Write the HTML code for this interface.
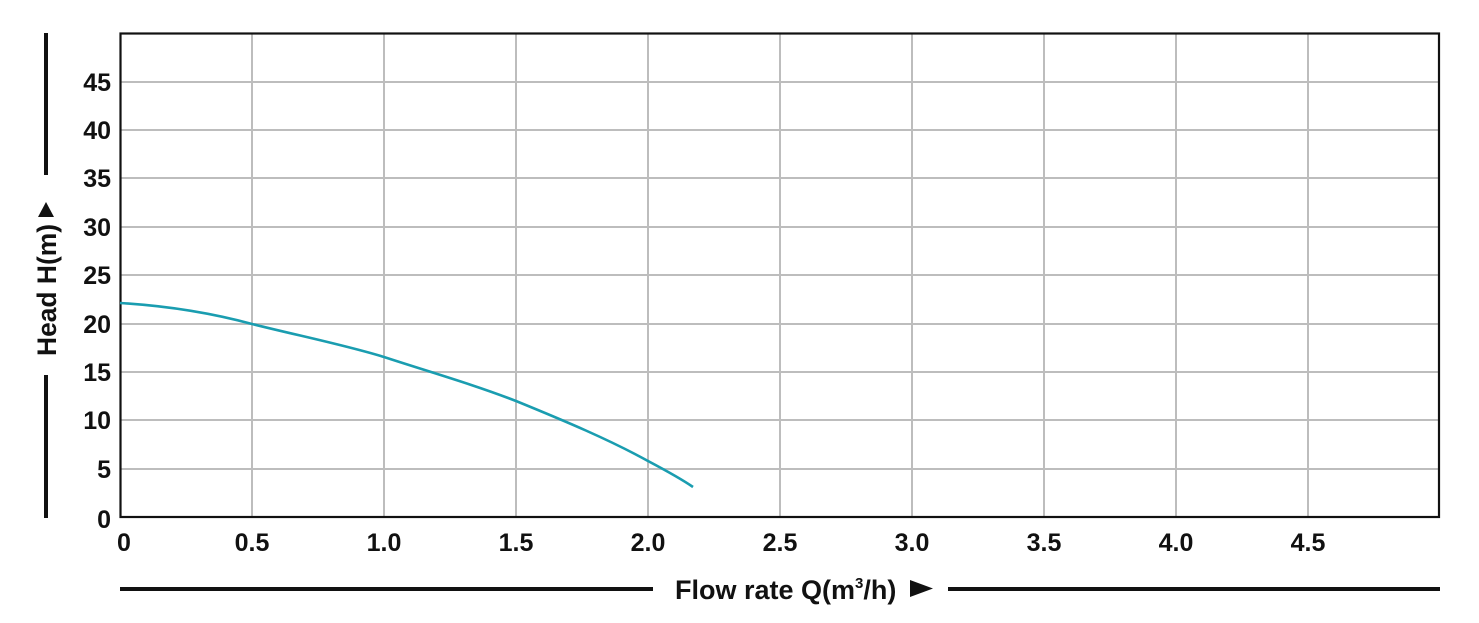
<!DOCTYPE html>
<html><head><meta charset="utf-8"><style>
html,body{margin:0;padding:0;background:#fff;}
svg{display:block;}
text{font-family:"Liberation Sans",sans-serif;font-weight:bold;fill:#111;}
</style></head><body>
<svg width="1479" height="623" viewBox="0 0 1479 623" xmlns="http://www.w3.org/2000/svg">
<g stroke="#bdbdbd" stroke-width="2">
<line x1="120" y1="82" x2="1439" y2="82"/><line x1="120" y1="130" x2="1439" y2="130"/>
<line x1="120" y1="178" x2="1439" y2="178"/><line x1="120" y1="227" x2="1439" y2="227"/>
<line x1="120" y1="275" x2="1439" y2="275"/><line x1="120" y1="324" x2="1439" y2="324"/>
<line x1="120" y1="372" x2="1439" y2="372"/><line x1="120" y1="420" x2="1439" y2="420"/>
<line x1="120" y1="469" x2="1439" y2="469"/>
<line x1="252" y1="33" x2="252" y2="517"/><line x1="384" y1="33" x2="384" y2="517"/>
<line x1="516" y1="33" x2="516" y2="517"/><line x1="648" y1="33" x2="648" y2="517"/>
<line x1="780" y1="33" x2="780" y2="517"/><line x1="912" y1="33" x2="912" y2="517"/>
<line x1="1044" y1="33" x2="1044" y2="517"/><line x1="1176" y1="33" x2="1176" y2="517"/>
<line x1="1308" y1="33" x2="1308" y2="517"/>
</g>
<rect x="120.5" y="33.5" width="1318.5" height="483.5" fill="none" stroke="#111" stroke-width="2.2"/>
<path d="M120,303 C170,306 215,314 252,324 C300,336 345,345 384,357 C430,372 475,385 516,401 C565,421 610,440 648,461 C665,470 680,478 693,487" fill="none" stroke="#1a9db0" stroke-width="2.6"/>
<g font-size="25" text-anchor="end">
<text x="111" y="91">45</text><text x="111" y="139">40</text><text x="111" y="187">35</text>
<text x="111" y="236">30</text><text x="111" y="284">25</text><text x="111" y="333">20</text>
<text x="111" y="381">15</text><text x="111" y="429">10</text><text x="111" y="478">5</text>
<text x="111" y="528">0</text>
</g>
<g font-size="25" text-anchor="middle">
<text x="124" y="551">0</text><text x="252" y="551">0.5</text><text x="384" y="551">1.0</text>
<text x="516" y="551">1.5</text><text x="648" y="551">2.0</text><text x="780" y="551">2.5</text>
<text x="912" y="551">3.0</text><text x="1044" y="551">3.5</text><text x="1176" y="551">4.0</text>
<text x="1308" y="551">4.5</text>
</g>
<line x1="46" y1="33" x2="46" y2="175" stroke="#111" stroke-width="4"/>
<line x1="46" y1="375" x2="46" y2="518" stroke="#111" stroke-width="4"/>
<polygon points="38,217 54,217 46,202" fill="#111"/>
<text transform="translate(56,356) rotate(-90)" font-size="27" textLength="132" lengthAdjust="spacingAndGlyphs">Head H(m)</text>
<line x1="120" y1="589" x2="653" y2="589" stroke="#111" stroke-width="4"/>
<line x1="948" y1="589" x2="1440" y2="589" stroke="#111" stroke-width="4"/>
<text x="675" y="599" font-size="27">Flow rate Q(m<tspan font-size="15" dy="-11">3</tspan><tspan dy="11">/h)</tspan></text>
<polygon points="910,580 910,597 933,588.5" fill="#111"/>
</svg>
</body></html>
